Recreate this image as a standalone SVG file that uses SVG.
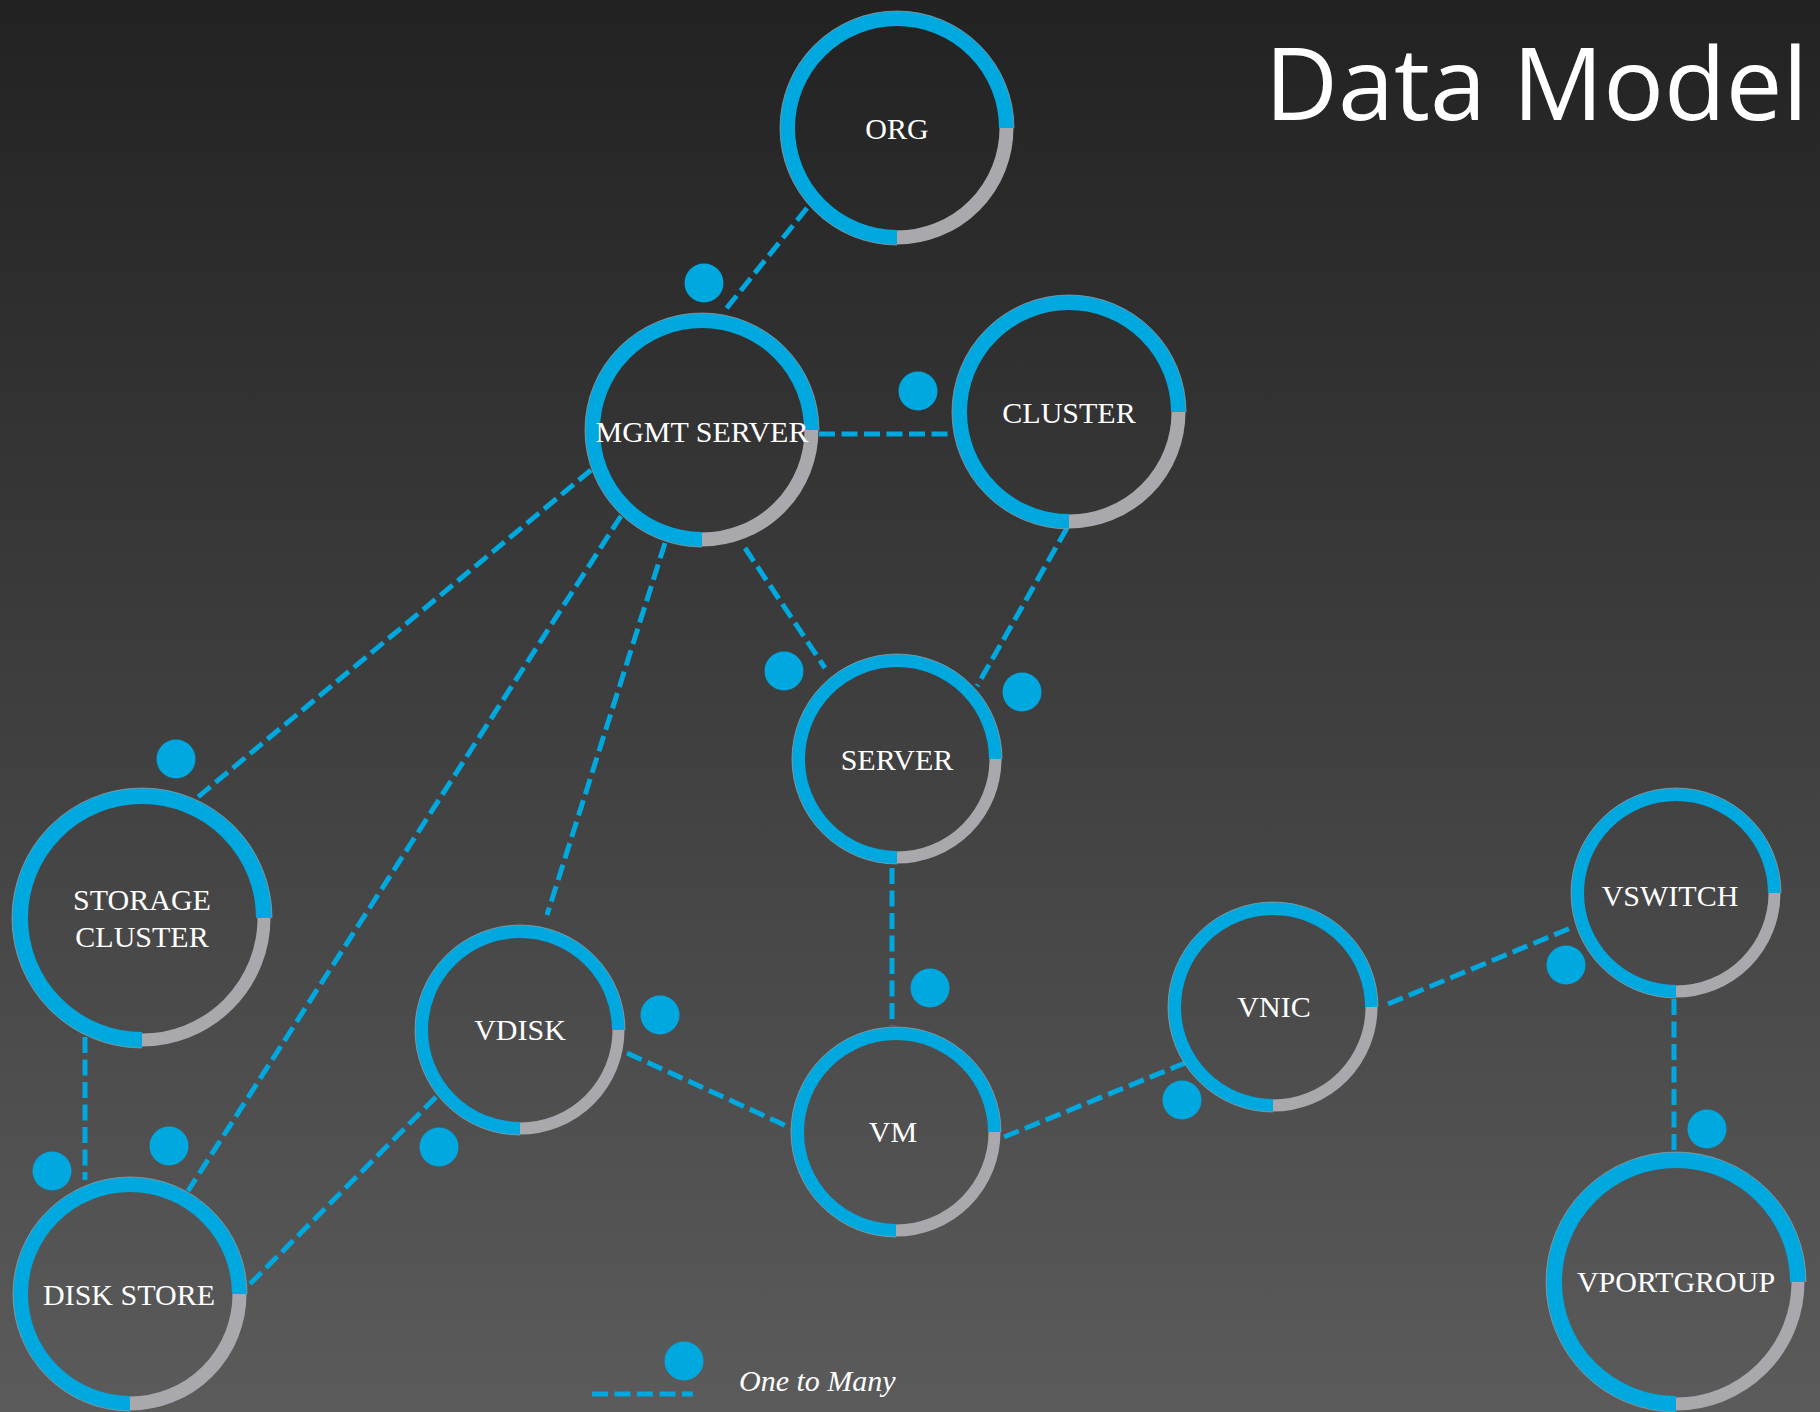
<svg xmlns="http://www.w3.org/2000/svg" width="1820" height="1412" viewBox="0 0 1820 1412">
  <defs>
    <linearGradient id="bg" x1="0" y1="0" x2="0" y2="1">
      <stop offset="0" stop-color="#222222"/>
      <stop offset="1" stop-color="#5b5b5b"/>
    </linearGradient>
    <style>
      .conn { stroke: #00a8e0; stroke-width: 5; stroke-dasharray: 16 6.5; fill: none; }
      .dot { fill: #00a8e0; }
      .blue { stroke: #00a8e0; fill: none; }
      .gray { stroke: #a9a8ad; fill: none; }
      .edge { stroke: #a0a0a0; stroke-width: 1; fill: none; opacity: 0.7; }
      .lbl { font-family: "Liberation Serif", "Times New Roman", serif; font-size: 30px; fill: #ffffff; text-anchor: middle; }
      .title { font-family: "Open Sans", "Liberation Sans", sans-serif; font-size: 101px; fill: #ffffff; text-anchor: end; }
      .legend { font-family: "Liberation Serif", "Times New Roman", serif; font-size: 30px; font-style: italic; fill: #ffffff; }
    </style>
  </defs>
  <rect x="0" y="0" width="1820" height="1412" fill="url(#bg)"/>

  <text class="title" x="1808" y="120">Data Model</text>

  <g id="connectors">
    <line class="conn" x1="807" y1="208" x2="726" y2="309"/>
    <line class="conn" x1="819" y1="434" x2="954" y2="434"/>
    <line class="conn" x1="591" y1="470" x2="198" y2="797"/>
    <line class="conn" x1="621" y1="516" x2="188" y2="1191"/>
    <line class="conn" x1="665" y1="543" x2="547" y2="915"/>
    <line class="conn" x1="745" y1="548" x2="825" y2="668"/>
    <line class="conn" x1="1067" y1="528" x2="977" y2="686"/>
    <line class="conn" x1="892" y1="868" x2="892" y2="1026"/>
    <line class="conn" x1="85" y1="1037" x2="85" y2="1180"/>
    <line class="conn" x1="436" y1="1097" x2="247" y2="1287"/>
    <line class="conn" x1="627" y1="1053" x2="791" y2="1128"/>
    <line class="conn" x1="1004" y1="1137" x2="1185" y2="1063"/>
    <line class="conn" x1="1388" y1="1004" x2="1573" y2="927"/>
    <line class="conn" x1="1674" y1="999" x2="1674" y2="1153"/>
  </g>

  <g id="multiplicity">
    <circle class="dot" cx="704" cy="283" r="19.5"/>
    <circle class="dot" cx="918" cy="391" r="19.5"/>
    <circle class="dot" cx="784" cy="671" r="19.5"/>
    <circle class="dot" cx="1022" cy="692" r="19.5"/>
    <circle class="dot" cx="176" cy="759" r="19.5"/>
    <circle class="dot" cx="930" cy="988" r="19.5"/>
    <circle class="dot" cx="660" cy="1015" r="19.5"/>
    <circle class="dot" cx="439" cy="1147" r="19.5"/>
    <circle class="dot" cx="169" cy="1146" r="19.5"/>
    <circle class="dot" cx="52" cy="1171" r="19.5"/>
    <circle class="dot" cx="1182" cy="1100" r="19.5"/>
    <circle class="dot" cx="1566" cy="965" r="19.5"/>
    <circle class="dot" cx="1707" cy="1129" r="19.5"/>
  </g>

  <g id="org">
    <path class="gray" stroke-width="14" d="M897 237.5 A109.5 109.5 0 0 0 1006.5 128"/>
    <path class="blue" stroke-width="15" d="M1006.5 128 A109.5 109.5 0 1 0 897 237.5"/>
    <path class="edge" d="M1014 128 A117 117 0 1 0 897 245"/>
    <text class="lbl" x="897" y="139">ORG</text>
  </g>

  <g id="mgmt-server">
    <path class="gray" stroke-width="14" d="M702 539.5 A109.5 109.5 0 0 0 811.5 430"/>
    <path class="blue" stroke-width="15" d="M811.5 430 A109.5 109.5 0 1 0 702 539.5"/>
    <path class="edge" d="M819 430 A117 117 0 1 0 702 547"/>
    <text class="lbl" x="702" y="442">MGMT SERVER</text>
  </g>

  <g id="cluster">
    <path class="gray" stroke-width="14" d="M1069 521.5 A109.5 109.5 0 0 0 1178.5 412"/>
    <path class="blue" stroke-width="15" d="M1178.5 412 A109.5 109.5 0 1 0 1069 521.5"/>
    <path class="edge" d="M1186 412 A117 117 0 1 0 1069 529"/>
    <text class="lbl" x="1069" y="423">CLUSTER</text>
  </g>

  <g id="server">
    <path class="gray" stroke-width="12" d="M897 857.5 A98.5 98.5 0 0 0 995.5 759"/>
    <path class="blue" stroke-width="13" d="M995.5 759 A98.5 98.5 0 1 0 897 857.5"/>
    <path class="edge" d="M1002 759 A105 105 0 1 0 897 864"/>
    <text class="lbl" x="897" y="770">SERVER</text>
  </g>

  <g id="storage-cluster">
    <path class="gray" stroke-width="13" d="M142 1040 A122 122 0 0 0 264 918"/>
    <path class="blue" stroke-width="16" d="M264 918 A122 122 0 1 0 142 1040"/>
    <path class="edge" d="M272 918 A130 130 0 1 0 142 1048"/>
    <text class="lbl" x="142" y="910">STORAGE</text>
    <text class="lbl" x="142" y="947">CLUSTER</text>
  </g>

  <g id="vdisk">
    <path class="gray" stroke-width="12" d="M520 1128.5 A98.5 98.5 0 0 0 618.5 1030"/>
    <path class="blue" stroke-width="13" d="M618.5 1030 A98.5 98.5 0 1 0 520 1128.5"/>
    <path class="edge" d="M625 1030 A105 105 0 1 0 520 1135"/>
    <text class="lbl" x="520" y="1040">VDISK</text>
  </g>

  <g id="vm">
    <path class="gray" stroke-width="12" d="M896 1230.5 A98.5 98.5 0 0 0 994.5 1132"/>
    <path class="blue" stroke-width="13" d="M994.5 1132 A98.5 98.5 0 1 0 896 1230.5"/>
    <path class="edge" d="M1001 1132 A105 105 0 1 0 896 1237"/>
    <text class="lbl" x="893" y="1142">VM</text>
  </g>

  <g id="vnic">
    <path class="gray" stroke-width="12" d="M1273 1105.5 A98.5 98.5 0 0 0 1371.5 1007"/>
    <path class="blue" stroke-width="13" d="M1371.5 1007 A98.5 98.5 0 1 0 1273 1105.5"/>
    <path class="edge" d="M1378 1007 A105 105 0 1 0 1273 1112"/>
    <text class="lbl" x="1274" y="1017">VNIC</text>
  </g>

  <g id="vswitch">
    <path class="gray" stroke-width="12" d="M1676 991.5 A98.5 98.5 0 0 0 1774.5 893"/>
    <path class="blue" stroke-width="13" d="M1774.5 893 A98.5 98.5 0 1 0 1676 991.5"/>
    <path class="edge" d="M1781 893 A105 105 0 1 0 1676 998"/>
    <text class="lbl" x="1670" y="906">VSWITCH</text>
  </g>

  <g id="vportgroup">
    <path class="gray" stroke-width="13" d="M1676 1404 A122 122 0 0 0 1798 1282"/>
    <path class="blue" stroke-width="16" d="M1798 1282 A122 122 0 1 0 1676 1404"/>
    <path class="edge" d="M1806 1282 A130 130 0 1 0 1676 1412"/>
    <text class="lbl" x="1676" y="1292">VPORTGROUP</text>
  </g>

  <g id="disk-store">
    <path class="gray" stroke-width="14" d="M130 1403.5 A109.5 109.5 0 0 0 239.5 1294"/>
    <path class="blue" stroke-width="15" d="M239.5 1294 A109.5 109.5 0 1 0 130 1403.5"/>
    <path class="edge" d="M247 1294 A117 117 0 1 0 130 1411"/>
    <text class="lbl" x="129" y="1305">DISK STORE</text>
  </g>

  <g id="legend">
    <circle class="dot" cx="684" cy="1361" r="19.5"/>
    <line class="conn" x1="592" y1="1394" x2="693" y2="1394" stroke-dasharray="15.5 5.5"/>
    <text class="legend" x="739" y="1391">One to Many</text>
  </g>
</svg>
